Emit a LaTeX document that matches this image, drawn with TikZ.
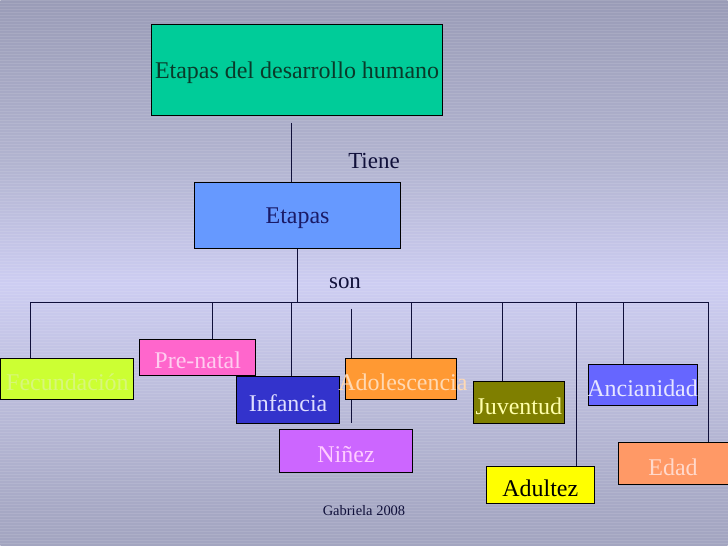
\documentclass[tikz,border=0pt]{standalone}
\usepackage{fontspec}
\setmainfont{Liberation Serif}
\pgfdeclarelayer{bgl}
\pgfdeclarelayer{lines}
\pgfsetlayers{bgl,lines,main}
\definecolor{g0}{HTML}{72748C}
\definecolor{g1}{HTML}{8A8CA6}
\definecolor{g2}{HTML}{9698B2}
\definecolor{g3}{HTML}{A6A8C4}
\definecolor{g4}{HTML}{BEBFDE}
\definecolor{g5}{HTML}{CDCDF2}
\definecolor{g6}{HTML}{B2B4D0}
\definecolor{g7}{HTML}{9597B2}
\definecolor{g8}{HTML}{7E8098}
\definecolor{g9}{HTML}{8A8CA4}
\pgfdeclareverticalshading{bgshade}{100bp}{color(0bp)=(g0); color(6bp)=(g1); color(14bp)=(g2); color(28bp)=(g3); color(40bp)=(g4); color(49bp)=(g5); color(60bp)=(g6); color(78bp)=(g7); color(90bp)=(g8); color(100bp)=(g9)}
\definecolor{cTop}{HTML}{00CC99}
\definecolor{tTop}{HTML}{0A3A2A}
\definecolor{cEta}{HTML}{6699FF}
\definecolor{tEta}{HTML}{1A1A66}
\definecolor{cFec}{HTML}{CCFF33}
\definecolor{tFec}{HTML}{D8F77A}
\definecolor{cPre}{HTML}{FF66CC}
\definecolor{tPre}{HTML}{FFCCF0}
\definecolor{cInf}{HTML}{3333CC}
\definecolor{tInf}{HTML}{DDDDFF}
\definecolor{cAdo}{HTML}{FF9933}
\definecolor{tAdo}{HTML}{FFD9B3}
\definecolor{cJuv}{HTML}{7F7F00}
\definecolor{tJuv}{HTML}{FFFFAA}
\definecolor{cAnc}{HTML}{6666FF}
\definecolor{tAnc}{HTML}{E6E6FF}
\definecolor{cNin}{HTML}{CC66FF}
\definecolor{tNin}{HTML}{FFCCFF}
\definecolor{cAdu}{HTML}{FFFF00}
\definecolor{cEda}{HTML}{FF9966}
\definecolor{tEda}{HTML}{FFD9CC}
\definecolor{tLab}{HTML}{10103A}
\newcommand\boxtext[1]{\makebox[0pt]{\raisebox{-3pt}[\height][\depth]{#1}}}
\begin{document}
\begin{tikzpicture}[x=1pt,y=-1pt,
  box/.style={draw=black, line width=1pt, inner sep=0pt, anchor=north west, font=\fontsize{24}{28}\selectfont},
  conn/.style={draw=tLab, line width=1pt},
  lab/.style={inner sep=0pt, text=tLab, font=\fontsize{23}{28}\selectfont}]
\begin{pgfonlayer}{bgl}
\shade[shading=bgshade] (0,0) rectangle (728,546);
\foreach \yy in {1,4,...,546} \draw[white, opacity=0.10, line width=1pt] (0,\yy) -- (728,\yy);
\end{pgfonlayer}
\useasboundingbox (0,0) rectangle (728,546);
% boxes
\node[box, fill=cTop, text=tTop, minimum width=291pt, minimum height=91pt] (top) at (151,24) {\boxtext{Etapas del desarrollo humano}};
\node[box, fill=cEta, text=tEta, minimum width=206pt, minimum height=66pt] (etapas) at (194,182) {\boxtext{Etapas}};
\node[box, fill=cFec, text=tFec, minimum width=133pt, minimum height=42pt] (fec) at (0,358) {\boxtext{Fecundación}};
\node[box, fill=cPre, text=tPre, minimum width=116pt, minimum height=37pt] (pre) at (139,339) {\boxtext{Pre-natal}};
\node[box, fill=cInf, text=tInf, minimum width=103pt, minimum height=47pt] (inf) at (236,377) {\boxtext{Infancia}};
\node[box, fill=cAdo, text=tAdo, minimum width=111pt, minimum height=42pt] (ado) at (345,358) {\boxtext{\hspace*{4pt}Adolescencia}};
\node[box, fill=cJuv, text=tJuv, minimum width=91pt, minimum height=42pt] (juv) at (473,382) {\boxtext{Juventud}};
\node[box, fill=cAnc, text=tAnc, minimum width=109pt, minimum height=42pt] (anc) at (588,364) {\boxtext{Ancianidad}};
\node[box, fill=cNin, text=tNin, minimum width=133pt, minimum height=43pt] (nin) at (279,430) {\boxtext{Niñez}};
\node[box, fill=cAdu, text=black, minimum width=108pt, minimum height=37pt] (adu) at (486,467) {\boxtext{Adultez}};
\node[box, fill=cEda, text=tEda, minimum width=110pt, minimum height=42pt] (eda) at (618,443) {\boxtext{Edad}};
% labels
\node[lab] (tiene) at (374,161) {Tiene};
\node[lab] (son) at (345,284) {son};
\node[inner sep=0pt, text=tLab, font=\fontsize{14.5}{16}\selectfont] (firma) at (364,511) {Gabriela 2008};
% connectors
\coordinate (t1) at (291,0);
\coordinate (e1) at (297,0);
\coordinate (bL) at (30,303);
\coordinate (bR) at (709,303);
\coordinate (dPre) at (212,303);
\coordinate (dInf) at (291,303);
\coordinate (dNin) at (351,303);
\coordinate (dAdo) at (412,303);
\coordinate (dJuv) at (503,303);
\coordinate (dAdu) at (577,303);
\coordinate (dAnc) at (624,303);
\begin{pgfonlayer}{lines}
\draw[conn, shorten <=7pt] (t1 |- top.south) -- (t1 |- etapas.north);
\draw[conn] (e1 |- etapas.south) -- (e1 |- bL);
\draw[conn] (bL) -- (bR);
\draw[conn] (bL) -- (bL |- fec.north);
\draw[conn] (dPre) -- (dPre |- pre.north);
\draw[conn] (dInf) -- (dInf |- inf.north);
\draw[conn, shorten <=6pt, shorten >=6pt] (dNin) -- (dNin |- nin.north);
\draw[conn] (dAdo) -- (dAdo |- ado.north);
\draw[conn] (dJuv) -- (dJuv |- juv.north);
\draw[conn] (dAdu) -- (dAdu |- adu.north);
\draw[conn] (dAnc) -- (dAnc |- anc.north);
\draw[conn] (bR) -- (bR |- eda.north);
\end{pgfonlayer}
\end{tikzpicture}
\end{document}
